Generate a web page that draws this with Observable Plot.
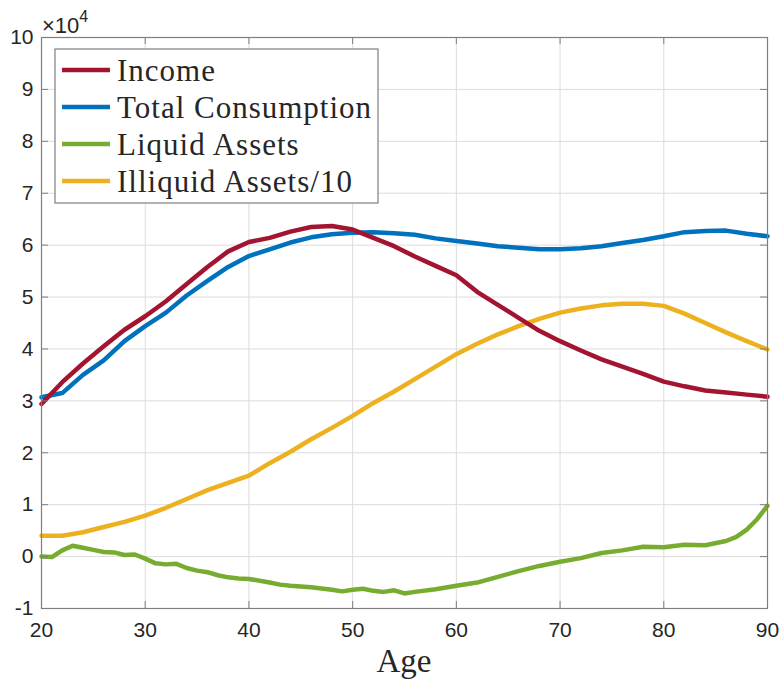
<!DOCTYPE html>
<html>
<head>
<meta charset="utf-8">
<script src="https://cdn.jsdelivr.net/npm/d3@7"></script>
<script src="https://cdn.jsdelivr.net/npm/@observablehq/plot@0.6"></script>
<style>
  html, body { margin: 0; padding: 0; background: #fff; }
  #chart { position: relative; width: 780px; height: 679px; }
</style>
</head>
<body>
<div id="chart"></div>
<script>
// Values in units of 10^4
const ages = [20,22,24,26,28,30,32,34,36,38,40,42,44,46,48,50,52,54,56,58,60,62,64,66,68,70,72,74,76,78,80,82,84,86,88,90];
const income = [2.94,3.36,3.72,4.05,4.37,4.63,4.92,5.25,5.58,5.88,6.06,6.14,6.26,6.35,6.37,6.30,6.14,5.98,5.78,5.60,5.42,5.10,4.85,4.60,4.35,4.15,3.97,3.80,3.66,3.52,3.37,3.28,3.20,3.16,3.12,3.08];
const consumption = [3.07,3.15,3.50,3.78,4.15,4.44,4.70,5.03,5.31,5.58,5.79,5.92,6.05,6.15,6.21,6.24,6.25,6.23,6.20,6.13,6.08,6.03,5.98,5.95,5.92,5.92,5.94,5.98,6.04,6.10,6.17,6.25,6.27,6.28,6.22,6.17];
const illiquid10 = [0.40,0.40,0.47,0.57,0.67,0.79,0.94,1.11,1.28,1.42,1.56,1.80,2.02,2.26,2.48,2.71,2.96,3.18,3.42,3.66,3.90,4.10,4.28,4.44,4.58,4.70,4.78,4.84,4.87,4.87,4.83,4.68,4.50,4.32,4.15,3.99];
const liquidAges = [20,21,22,23,24,25,26,27,28,29,30,31,32,33,34,35,36,37,38,39,40,42,43,44,46,48,49,50,51,52,53,54,55,56,58,60,62,64,66,68,70,72,74,76,78,80,82,84,86,87,88,89,90];
const liquid = [0.00,-0.01,0.12,0.21,0.17,0.13,0.09,0.08,0.03,0.04,-0.04,-0.13,-0.15,-0.14,-0.22,-0.27,-0.30,-0.36,-0.40,-0.42,-0.43,-0.50,-0.54,-0.56,-0.59,-0.64,-0.67,-0.64,-0.62,-0.66,-0.68,-0.65,-0.71,-0.68,-0.63,-0.56,-0.50,-0.39,-0.28,-0.18,-0.10,-0.03,0.07,0.12,0.19,0.18,0.23,0.22,0.30,0.38,0.52,0.72,0.98];

const seriesNames = ["Income","Total Consumption","Liquid Assets","Illiquid Assets/10"];
const seriesColors = ["#A2142F","#0072BD","#77AC30","#EDB120"];
const xTicks = [20,30,40,50,60,70,80,90];
const yTicks = [-1,0,1,2,3,4,5,6,7,8,9,10];

const rows = [];
ages.forEach((a,i) => {
  rows.push({age:a, v:income[i], s:seriesNames[0]});
  rows.push({age:a, v:consumption[i], s:seriesNames[1]});
  rows.push({age:a, v:illiquid10[i], s:seriesNames[3]});
});
liquidAges.forEach((a,i) => rows.push({age:a, v:liquid[i], s:seriesNames[2]}));

const W = 780, H = 679, mL = 41, mR = 13, mT = 37, mB = 71;
const fw = W - mL - mR, fh = H - mT - mB;
const axisGray = "#7f7f7f";
const tickLen = 7;

const plot = Plot.plot({
  width: W, height: H,
  marginLeft: mL, marginRight: mR, marginTop: mT, marginBottom: mB,
  style: {fontFamily: "'Liberation Sans', Arial, sans-serif", fontSize: "21px", color: "#262626", background: "#fff"},
  x: {domain: [20, 90], ticks: xTicks},
  y: {domain: [-1, 10], ticks: yTicks},
  color: {domain: seriesNames, range: seriesColors},
  marks: [
    Plot.gridX(xTicks, {stroke: "#dcdcdc", strokeOpacity: 1, strokeWidth: 1}),
    Plot.gridY(yTicks, {stroke: "#dcdcdc", strokeOpacity: 1, strokeWidth: 1}),
    Plot.line(rows.filter(d => d.s === seriesNames[3]), {x: "age", y: "v", stroke: "s", strokeWidth: 4.5}),
    Plot.line(rows.filter(d => d.s === seriesNames[2]), {x: "age", y: "v", stroke: "s", strokeWidth: 4.5}),
    Plot.line(rows.filter(d => d.s === seriesNames[1]), {x: "age", y: "v", stroke: "s", strokeWidth: 4.5}),
    Plot.line(rows.filter(d => d.s === seriesNames[0]), {x: "age", y: "v", stroke: "s", strokeWidth: 4.5}),
    Plot.tickX(xTicks, {x: d => d, insetTop: fh - tickLen, stroke: axisGray}),
    Plot.tickX(xTicks, {x: d => d, insetBottom: fh - tickLen, stroke: axisGray}),
    Plot.tickY(yTicks, {y: d => d, insetRight: fw - tickLen, stroke: axisGray}),
    Plot.tickY(yTicks, {y: d => d, insetLeft: fw - tickLen, stroke: axisGray}),
    Plot.frame({stroke: axisGray, strokeWidth: 1.2}),
    Plot.axisX(xTicks, {tickSize: 0, tickPadding: 14, label: null, fontSize: 21, tickFormat: d => String(d)}),
    Plot.axisY(yTicks, {tickSize: 0, tickPadding: 8, label: null, fontSize: 21, tickFormat: d => String(d)})
  ]
});

document.getElementById("chart").appendChild(plot);
const svg = d3.select(plot);

// exponent label
const ex = svg.append("text")
  .attr("x", mL + 1).attr("y", 33)
  .attr("text-anchor", "start")
  .attr("font-family", "'Liberation Sans', Arial, sans-serif")
  .attr("font-size", 22).attr("fill", "#262626");
ex.append("tspan").text("\u00d710");
ex.append("tspan").attr("dy", -11).attr("font-size", 16).text("4");

// x-axis label
svg.append("text")
  .attr("x", mL + fw / 2).attr("y", 672)
  .attr("text-anchor", "middle")
  .attr("font-family", "'Liberation Serif', 'Times New Roman', serif")
  .attr("font-size", 33).attr("fill", "#262626")
  .text("Age");

// legend
const lg = svg.append("g");
lg.append("rect").attr("x", 55).attr("y", 49).attr("width", 323).attr("height", 154)
  .attr("fill", "#fff").attr("stroke", axisGray).attr("stroke-width", 1.2);
const rowY = [70, 107, 144, 181];
seriesNames.forEach((n, i) => {
  lg.append("line").attr("x1", 62).attr("x2", 110).attr("y1", rowY[i]).attr("y2", rowY[i])
    .attr("stroke", seriesColors[i]).attr("stroke-width", 4.5);
  lg.append("text").attr("x", 117).attr("y", rowY[i]).attr("dy", "0.35em")
    .attr("text-anchor", "start")
    .attr("font-family", "'Liberation Serif', 'Times New Roman', serif")
    .attr("font-size", 31).attr("letter-spacing", 1).attr("fill", "#262626")
    .text(n);
});
</script>
</body>
</html>
